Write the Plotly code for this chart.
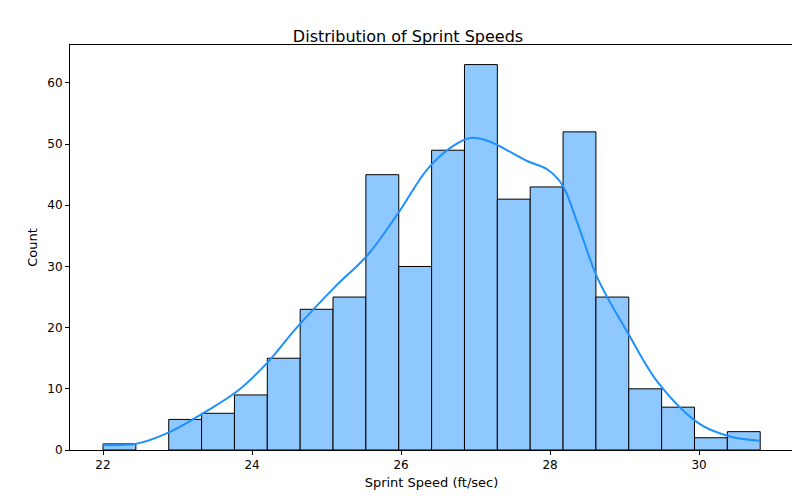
import numpy as np
import plotly.graph_objects as go

bin_start = 22.0
bin_width = 0.441
counts = [1, 0, 5, 6, 9, 15, 23, 25, 45, 30, 49, 63, 41, 43, 52, 25, 10, 7, 2, 3]

kde_x = [22.0, 22.44, 22.87, 23.34, 23.8, 24.2, 24.6, 25.1, 25.56, 25.96, 26.36, 26.7,
         26.93, 27.17, 27.5, 27.7, 27.97, 28.17, 28.37, 28.64, 29.05, 29.45, 29.99, 30.39, 30.82]
kde_y = [0.8, 1.0, 2.8, 6.0, 9.6, 14.2, 20, 26.5, 32, 38.7, 46, 49.7,
         51, 50.5, 48.5, 47.2, 45.8, 43.2, 37, 28, 19, 11, 4.4, 2.3, 1.5]

centers = bin_start + bin_width * (np.arange(len(counts)) + 0.5)
edge = ["black" if c > 0 else "rgba(0,0,0,0)" for c in counts]

fig = go.Figure()
fig.add_bar(x=centers, y=counts, width=bin_width,
            marker=dict(color="rgb(143,200,255)", line=dict(color=edge, width=1)))
fig.add_scatter(x=kde_x, y=kde_y, mode="lines", line=dict(color="#1e90ff", width=2, shape="spline"))

ax = dict(showgrid=False, zeroline=False, showline=True, mirror=True, linecolor="black",
          ticks="outside", ticklen=4, tickcolor="black", automargin=False,
          tickfont=dict(size=12))
fig.update_layout(
    width=800, height=500, showlegend=False, plot_bgcolor="white", paper_bgcolor="white",
    margin=dict(l=62, r=15, t=37, b=58, autoexpand=False),
    font=dict(family="DejaVu Sans", size=12, color="black"),
    title=dict(text="Distribution of Sprint Speeds", x=0.5, xanchor="center", y=0.955,
               font=dict(size=16), automargin=False),
    xaxis=dict(ax, range=[21.557, 31.26], dtick=2, title=dict(text="Sprint Speed (ft/sec)", standoff=6, font=dict(size=13))),
    yaxis=dict(ax, range=[0, 66.2], dtick=10, title=dict(text="Count", standoff=6, font=dict(size=13))),
)
fig.write_html("out.html")
